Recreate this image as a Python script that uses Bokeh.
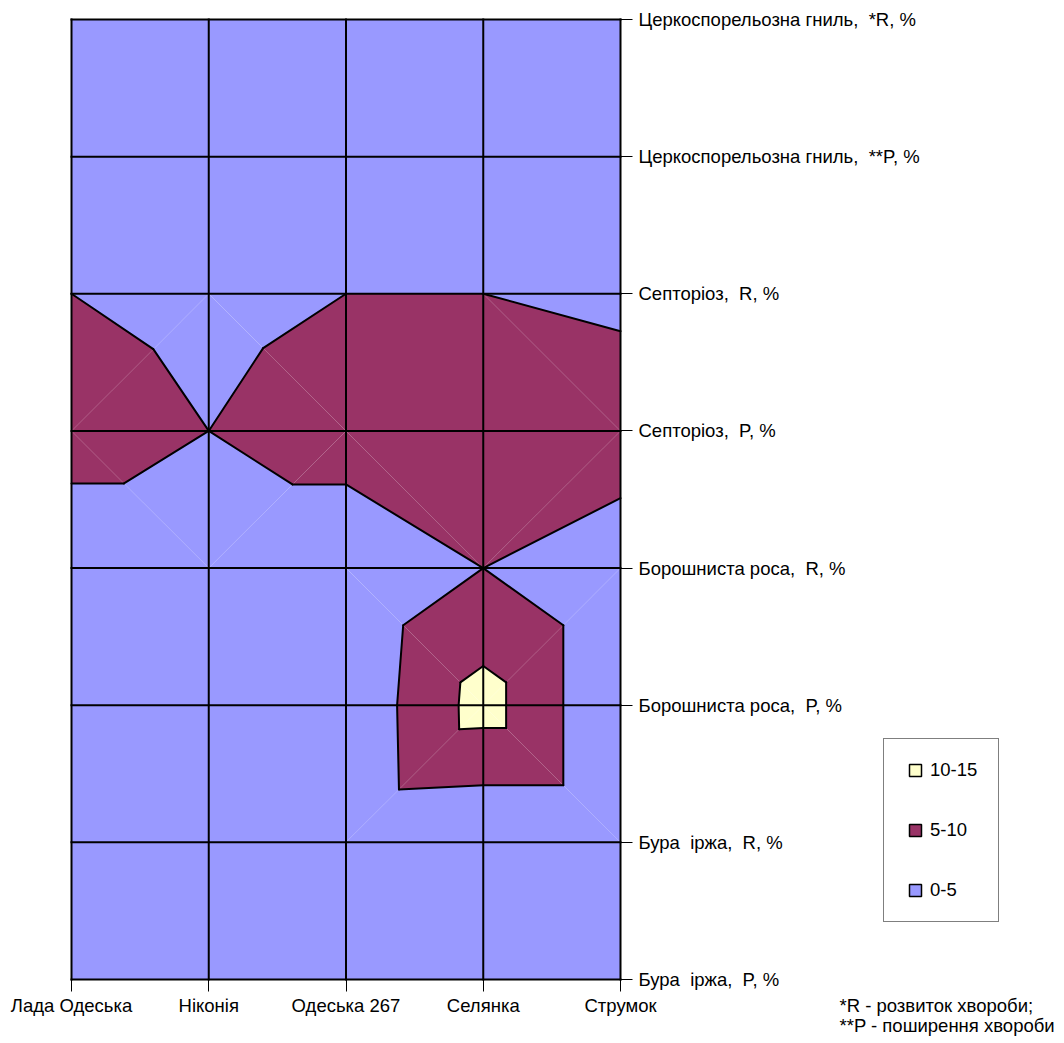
import numpy as np
from bokeh.plotting import figure
from bokeh.models import Range1d, FixedTicker, Label, Legend, LegendItem
from bokeh.embed import file_html
from bokeh.resources import INLINE

# ---------------- data ----------------
varieties = ["Лада Одеська", "Ніконія", "Одеська 267", "Селянка", "Струмок"]
indicators = [
    "Церкоспорельозна гниль,\u00a0 *R, %",
    "Церкоспорельозна гниль,\u00a0 **P, %",
    "Септоріоз,\u00a0 R, %",
    "Септоріоз,\u00a0 P, %",
    "Борошниста роса,\u00a0 R, %",
    "Борошниста роса,\u00a0 P, %",
    "Бура\u00a0 іржа,\u00a0 R, %",
    "Бура\u00a0 іржа,\u00a0 P, %",
]
# values (%) per indicator, one per variety (top row of chart first)
cercospora_R = [0.5, 0.8, 0.6, 1.0, 0.7]
cercospora_P = [2.0, 3.0, 2.5, 3.5, 2.8]
septoria_R = [5.0, 2.9, 5.0, 5.0, 3.2]
septoria_P = [8.1, 5.0, 8.2, 9.0, 9.8]
mildew_R = [0.0, 0.0, 0.0, 5.0, 0.0]
mildew_P = [0.5, 1.0, 0.85, 12.0, 0.0]
rust_R = [1.0, 1.5, 0.6, 0.0, 0.0]
rust_P = [2.0, 3.0, 2.0, 1.0, 1.0]

band_edges = [0, 5, 10, 15]
band_labels = ["0-5", "5-10", "10-15"]
band_colors = ["#9999FF", "#993366", "#FFFFCC"]

footnotes = ["*R - розвиток хвороби;", "**P - поширення хвороби"]

FONT = "Liberation Sans"
FS = "18.5px"

# ---------------- contour computation (Excel-like triangulated surface) ----------------
Z = np.array([cercospora_R, cercospora_P, septoria_R, septoria_P,
              mildew_R, mildew_P, rust_R, rust_P], dtype=float)
nrow, ncol = Z.shape
nb = len(band_edges) - 1


def yof(r):
    return (nrow - 1) - r


def clip(poly, level, keep_above):
    out = []
    n = len(poly)
    for i in range(n):
        a = poly[i]
        b = poly[(i + 1) % n]
        ina = (a[2] >= level) if keep_above else (a[2] < level)
        inb = (b[2] >= level) if keep_above else (b[2] < level)
        if ina:
            out.append(a)
        if ina != inb:
            t = (level - a[2]) / (b[2] - a[2])
            out.append((a[0] + t * (b[0] - a[0]), a[1] + t * (b[1] - a[1]), level))
    return out


def area(poly):
    s = 0.0
    for i in range(len(poly)):
        x0, y0 = poly[i][0], poly[i][1]
        x1, y1 = poly[(i + 1) % len(poly)][0], poly[(i + 1) % len(poly)][1]
        s += x0 * y1 - x1 * y0
    return abs(s) / 2


patch_xs, patch_ys, patch_colors = [], [], []
line_xs, line_ys = [], []

for r in range(nrow - 1):
    for c in range(ncol - 1):
        TL = (c, yof(r), Z[r, c])
        TR = (c + 1, yof(r), Z[r, c + 1])
        BL = (c, yof(r + 1), Z[r + 1, c])
        BR = (c + 1, yof(r + 1), Z[r + 1, c + 1])
        if TL[2] + BR[2] >= TR[2] + BL[2]:
            tris = [[TL, TR, BR], [TL, BR, BL]]
        else:
            tris = [[TL, TR, BL], [TR, BR, BL]]
        pieces = []
        for tri in tris:
            for k in range(nb):
                poly = list(tri)
                if k > 0:
                    poly = clip(poly, band_edges[k], True)
                if k < nb - 1 and len(poly) >= 3:
                    poly = clip(poly, band_edges[k + 1], False)
                if len(poly) >= 3 and area(poly) > 1e-9:
                    pieces.append((k, poly))
        present = {k for k, _ in pieces}
        if len(present) == 1:
            k = present.pop()
            q = [TL, TR, BR, BL]
            patch_xs.append([p[0] for p in q])
            patch_ys.append([p[1] for p in q])
            patch_colors.append(band_colors[k])
            continue
        for k, poly in pieces:
            patch_xs.append([p[0] for p in poly])
            patch_ys.append([p[1] for p in poly])
            patch_colors.append(band_colors[k])
        for tri in tris:
            for L in band_edges[1:-1]:
                pts = []
                for a, b in [(0, 1), (1, 2), (2, 0)]:
                    va, vb = tri[a][2], tri[b][2]
                    if (va >= L) != (vb >= L):
                        t = (L - va) / (vb - va)
                        pts.append((tri[a][0] + t * (tri[b][0] - tri[a][0]),
                                    tri[a][1] + t * (tri[b][1] - tri[a][1])))
                if len(pts) == 2 and (abs(pts[0][0] - pts[1][0]) + abs(pts[0][1] - pts[1][1])) > 1e-9:
                    line_xs.append([pts[0][0], pts[1][0]])
                    line_ys.append([pts[0][1], pts[1][1]])

# ---------------- figure ----------------
W, H = 1064, 1040
LEFT, TOP = 71, 19            # pixel position of the surface's top-left node
SX = 549 / (ncol - 1)         # pixels per category
SY = 960 / (nrow - 1)         # pixels per series
x0 = -LEFT / SX
y1 = (nrow - 1) + TOP / SY
p = figure(width=W, height=H,
           x_range=Range1d(x0, x0 + W / SX), y_range=Range1d(y1 - H / SY, y1),
           y_axis_location="right", output_backend="svg", toolbar_location=None,
           min_border=0, background_fill_color="white", border_fill_color="white")
p.outline_line_color = None
p.xgrid.visible = False
p.ygrid.visible = False

p.patches(patch_xs, patch_ys, fill_color=patch_colors, line_color=None)
p.multi_line(line_xs, line_ys, line_color="black", line_width=2, line_cap="round", line_join="round")

# grid lines of the surface
cols = list(range(ncol))
rows = list(range(nrow))
p.segment(x0=cols, y0=[0] * ncol, x1=cols, y1=[nrow - 1] * ncol,
          line_color="black", line_width=2, line_cap="square")
p.segment(x0=[0] * nrow, y0=rows, x1=[ncol - 1] * nrow, y1=rows,
          line_color="black", line_width=2, line_cap="square")

# axes drawn inside the frame at the surface edges
xa = p.xaxis[0]
xa.fixed_location = 0
xa.bounds = (0, ncol - 1)
xa.ticker = FixedTicker(ticks=cols)
xa.major_label_overrides = {i: v for i, v in enumerate(varieties)}
ya = p.yaxis[0]
ya.fixed_location = ncol - 1
ya.bounds = (0, nrow - 1)
ya.ticker = FixedTicker(ticks=rows)
ya.major_label_overrides = {yof(i): v for i, v in enumerate(indicators)}
for ax in (xa, ya):
    ax.major_tick_in = 0
    ax.major_tick_out = 12
    ax.minor_tick_line_color = None
    ax.major_tick_line_color = "black"
    ax.major_tick_line_width = 1
    ax.axis_line_color = None
    ax.major_label_text_font = FONT
    ax.major_label_text_font_size = FS
    ax.major_label_text_color = "black"
xa.major_label_standoff = 3
ya.major_label_standoff = 6

# legend (proxy renderers placed outside the visible range)
leg_r = []
for k in range(nb):
    rr = p.scatter(x=[-100], y=[-100], marker="square", size=12, fill_color=band_colors[k],
                   line_color="black", line_width=1.5)
    leg_r.append(rr)
items = [LegendItem(label=band_labels[k], renderers=[leg_r[k]]) for k in reversed(range(nb))]
legend = Legend(items=items, location=(883, H - 922), orientation="vertical",
                padding=16, spacing=30, glyph_height=30, glyph_width=30,
                label_height=30, label_standoff=0, label_width=52,
                label_text_font=FONT, label_text_font_size=FS, label_text_color="black",
                border_line_color="black", border_line_width=1,
                background_fill_color="white", background_fill_alpha=1.0)
p.add_layout(legend, "center")

# footnotes
for i, txt in enumerate(footnotes):
    p.add_layout(Label(x=(839 - LEFT) / SX, y=(nrow - 1) - (1005 + 20 * i - TOP) / SY, text=txt,
                       text_font=FONT, text_font_size=FS, text_color="black",
                       text_baseline="middle", text_align="left"))

open("out.html", "w").write(file_html(p, INLINE))
